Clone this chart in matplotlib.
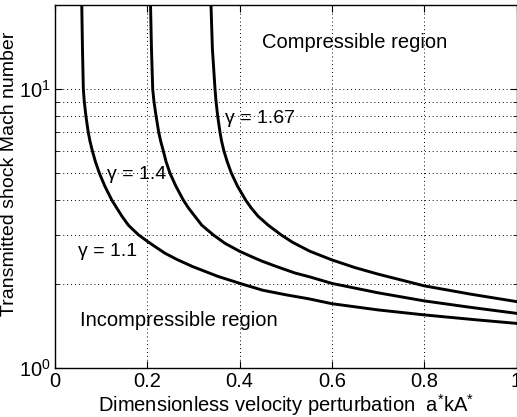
import numpy as np
import matplotlib
matplotlib.use("Agg")
import matplotlib.pyplot as plt
from matplotlib.ticker import NullFormatter, LogLocator

plt.rcParams['font.family'] = ['Liberation Sans', 'DejaVu Sans']
plt.rcParams['mathtext.fontset'] = 'custom'
plt.rcParams['mathtext.rm'] = 'Liberation Sans'
plt.rcParams['mathtext.it'] = 'Liberation Sans'

# Curves: dimensionless velocity perturbation vs transmitted shock Mach number
x_g11 = [0.058, 0.0595, 0.0614, 0.0635, 0.067, 0.072, 0.0758, 0.081, 0.0874, 0.096, 0.1076,
         0.123, 0.1336, 0.145, 0.159, 0.181, 0.206, 0.238, 0.264, 0.298, 0.353, 0.405,
         0.45, 0.5, 0.55, 0.6, 0.7, 0.8, 0.9, 1.0]
m_g11 = [20, 14, 10, 9, 8, 7, 6.5, 6, 5.5, 5, 4.5,
         4, 3.75, 3.5, 3.25, 3, 2.8, 2.58, 2.45, 2.31, 2.13, 2.0,
         1.90, 1.83, 1.77, 1.70, 1.615, 1.55, 1.495, 1.445]

x_g14 = [0.207, 0.209, 0.2117, 0.2145, 0.219, 0.2247, 0.229, 0.2347, 0.2405, 0.249, 0.2615,
         0.278, 0.289, 0.303, 0.318, 0.343, 0.368, 0.40, 0.4334, 0.45, 0.48, 0.52,
         0.5525, 0.6, 0.7, 0.8, 0.9, 1.0]
m_g14 = [20, 14, 10, 9, 8, 7, 6.5, 6, 5.5, 5, 4.5,
         4, 3.75, 3.5, 3.25, 3, 2.8, 2.62, 2.475, 2.41, 2.31, 2.19,
         2.12, 2.01, 1.86, 1.74, 1.65, 1.57]

x_g167 = [0.338, 0.341, 0.3467, 0.349, 0.3525, 0.3575, 0.361, 0.366, 0.373, 0.382, 0.395,
          0.413, 0.425, 0.44, 0.462, 0.49, 0.515, 0.5525, 0.6, 0.65, 0.7, 0.8, 0.9, 1.0]
m_g167 = [20, 14, 10, 9, 8, 7, 6.5, 6, 5.5, 5, 4.5,
          4, 3.75, 3.5, 3.25, 3, 2.82, 2.62, 2.44, 2.29, 2.17, 1.97, 1.84, 1.73]

curves = [(x_g11, m_g11), (x_g14, m_g14), (x_g167, m_g167)]

x_ticks = [0, 0.2, 0.4, 0.6, 0.8, 1.0]
x_tick_labels = ['0', '0.2', '0.4', '0.6', '0.8', '1']
y_ticks = [1, 10]
y_tick_labels = [r'$\mathregular{10^0}$', r'$\mathregular{10^1}$']

fig = plt.figure(figsize=(5.17, 4.17), dpi=100)
ax = fig.add_axes([55 / 517, 1 - 368 / 417, 461.5 / 517, 363 / 417])

for xs, ms in curves:
    ax.plot(xs, ms, color='black', lw=2.1, solid_joinstyle='round')

ax.set_yscale('log')
ax.set_xlim(0, 1)
ax.set_ylim(1, 20)

ax.set_xticks(x_ticks)
ax.set_xticklabels(x_tick_labels)
ax.set_yticks(y_ticks)
ax.set_yticklabels(y_tick_labels)
ax.yaxis.set_minor_locator(LogLocator(base=10, subs=np.arange(2, 10)))
ax.yaxis.set_minor_formatter(NullFormatter())

ax.tick_params(which='both', direction='in', top=True, right=True, labelsize=14.5)
ax.tick_params(which='major', length=5, width=0.8, pad=3)
ax.tick_params(which='minor', length=3, width=0.6)

ax.grid(True, which='major', color='black', linestyle=(0, (1, 3)), lw=0.7)
ax.grid(True, which='minor', axis='y', color='black', linestyle=(0, (1, 3)), lw=0.7)

for sp in ax.spines.values():
    sp.set_linewidth(1.0)

ax.text(0.449, 14.7, 'Compressible region', fontsize=14.5, va='center', ha='left')
ax.text(0.054, 1.486, 'Incompressible region', fontsize=14.5, va='center', ha='left')
ax.text(0.0505, 2.61, 'γ = 1.1', fontsize=14, va='center', ha='left')
ax.text(0.112, 4.93, 'γ = 1.4', fontsize=14, va='center', ha='left')
ax.text(0.368, 7.87, 'γ = 1.67', fontsize=14, va='center', ha='left')

ax.set_xlabel(r'Dimensionless velocity perturbation  a$^{*}$kA$^{*}$', fontsize=14.5, labelpad=1)
ax.set_ylabel('Transmitted shock Mach number', fontsize=14)
ax.yaxis.set_label_coords(-0.081, 0.535)

fig.savefig('out.png', dpi=100)
